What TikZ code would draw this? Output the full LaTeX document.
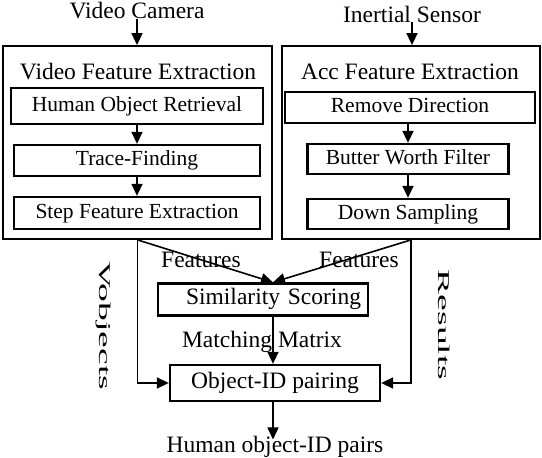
\documentclass[tikz,border=0pt]{standalone}
\usepackage{fontspec}
\setmainfont{Liberation Serif}
\usetikzlibrary{arrows.meta}
\tikzset{
  groupbox/.style={draw, line width=1.8pt, inner sep=0pt},
  stagebox/.style={draw, line width=2.3pt, inner sep=0pt, text height=15pt, text depth=5pt,
    font=\fontsize{21.5}{24}\selectfont},
  mainbox/.style={stagebox, font=\fontsize{23.5}{26}\selectfont},
  lbl/.style={inner sep=0pt, anchor=base, font=\fontsize{23.5}{26}\selectfont},
  sidelbl/.style={rotate=-90, inner sep=0pt, font=\fontsize{23.5}{26}\selectfont},
  flow/.style={-{Triangle[length=12pt,width=11pt]}, line width=1.6pt},
}
\begin{document}
\begin{tikzpicture}[x=1pt,y=-1pt]
	\useasboundingbox (0,0) rectangle (542,458);
	\begin{scope}
		\node[lbl] (cam) at (137,18) {Video Camera};
		\node[groupbox, minimum width=269, minimum height=193] (vfe) at (137.5,142.5) {};
		\node[lbl] (vfetitle) at (138,79) {Video Feature Extraction};
		\node[stagebox, minimum width=252, minimum height=36] (hor) at (137,106) {Human Object Retrieval};
		\node[stagebox, minimum width=246, minimum height=31] (trace) at (137,160.5) {Trace-Finding};
		\node[stagebox, minimum width=246, minimum height=32] (stepfe) at (137,213) {Step Feature Extraction};
		\draw[flow] (cam.south) -- (cam.south |- vfe.north);
		\draw[flow] (hor) -- (trace);
		\draw[flow] (trace) -- (stepfe);
	\end{scope}
	\begin{scope}
		\node[lbl] (imu) at (412,22) {Inertial Sensor};
		\node[groupbox, minimum width=258, minimum height=193] (afe) at (411,142.5) {};
		\node[lbl] (afetitle) at (410,79) {Acc Feature Extraction};
		\node[stagebox, minimum width=250, minimum height=31] (remdir) at (410,107.5) {Remove Direction};
		\node[stagebox, minimum width=201, minimum height=30] (bwf) at (408,159) {Butter Worth Filter};
		\node[stagebox, minimum width=201, minimum height=30] (down) at (408,214) {Down Sampling};
		\draw[flow] (imu.south) -- (imu.south |- afe.north);
		\draw[flow] (remdir.south -| bwf) -- (bwf);
		\draw[flow] (bwf) -- (down);
	\end{scope}
	\coordinate (simin) at (273,0);
	\node[mainbox, minimum width=210, minimum height=32, text width=196pt, align=right] (sim) at (263,299.5) {Similarity Scoring};
	\node[mainbox, minimum width=210, minimum height=36] (pair) at (275,383) {Object-ID pairing};
	\node[lbl] (out) at (275,452) {Human object-ID pairs};
	\node[lbl] (featl) at (201,267) {Features};
	\node[lbl] (featr) at (359,267) {Features};
	\node[lbl] (mm) at (262,347) {Matching Matrix};
	\node[sidelbl] (vobj) at (103,326) {\scalebox{1.6}[0.7]{Vobjects}};
	\node[sidelbl] (res) at (444,325) {\scalebox{1.6}[0.7]{Results}};
	\draw[flow] (vfe.south) -- (simin |- sim.north);
	\draw[flow] (afe.south) -- (simin |- sim.north);
	\draw[flow] (vfe.south) |- (pair.west);
	\draw[flow] (afe.south) |- (pair.east);
	\draw[flow] (simin |- sim.south) -- (simin |- pair.north);
	\draw[flow] (simin |- pair.south) -- ([yshift=-4pt]simin |- out.north);
\end{tikzpicture}
\end{document}
